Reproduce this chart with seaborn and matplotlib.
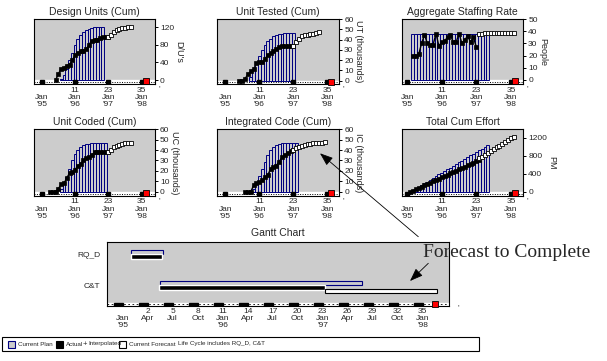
import numpy as np
import pandas as pd
import seaborn as sns
from matplotlib import pyplot as plt
from matplotlib.patches import Rectangle, FancyArrowPatch

# months: Jan '95 = -1, Jan '96 = 11, ...
tick_months = [-1, 11, 23, 35]
tick_text = ["\nJan\n'95", "11\nJan\n'96", "23\nJan\n'97", "35\nJan\n'98"]
complete_month = 36.4

# Design Units (Cum)
du_plan_m = list(range(6, 22))
du_plan = [3, 12, 26, 45, 62, 80, 93, 103, 110, 114, 117, 119, 120, 120, 120, 120]
du_act_m = list(range(4, 24))
du_act = [0, 14, 26, 28, 33, 35, 45, 57, 62, 65, 67, 70, 80, 90, 91, 92, 96, 97, 97, 97]
du_fc_m = list(range(23, 32))
du_fc = [97, 103, 109, 113, 116, 118, 119, 120, 120]

# Unit Tested (Cum)
ut_plan_m = list(range(8, 24))
ut_plan = [4, 10, 17, 24, 30, 35, 39, 41, 43, 44, 45, 45.5, 46, 46, 46, 46]
ut_act_m = list(range(4, 24))
ut_act = [0, 0, 2, 6, 9, 11, 17, 18, 18, 21, 25, 27, 29, 31, 33, 34, 34, 34, 34, 34]
ut_fc_m = list(range(23, 33))
ut_fc = [34, 38, 41, 43, 44, 44.5, 45, 45.5, 46, 47]

# Aggregate Staffing Rate
sr_plan_m = list(range(1, 28))
sr_plan = [38, 38, 38, 38, 38, 38, 38, 38, 38, 38, 38, 38, 38, 38,
           38, 38, 38, 38, 38, 38, 38, 38, 38, 38, 38, 38, 38]
sr_act_m = list(range(1, 24))
sr_act = [20, 20, 21, 30, 37, 30, 29, 29, 38, 28, 31, 32, 35, 37, 31, 31,
          38, 30, 33, 36, 31, 35, 27]
sr_fc_m = list(range(24, 37))
sr_fc = [38, 38, 38.5, 38.5, 38.5, 38.5, 38.5, 38.5, 38.5, 38.5, 38.5, 38.5, 38.5]

# Unit Coded (Cum)
uc_plan_m = list(range(6, 23))
uc_plan = [3, 7, 14, 22, 30, 36, 40, 43, 44.5, 45.5, 46, 46.5, 46.5, 46.5, 46.5, 46.5, 46.5]
uc_act_m = list(range(2, 24))
uc_act = [0, 0, 0, 3, 7, 8, 13, 18, 19, 21, 25, 27, 30, 32, 33, 35, 38, 38, 38, 38, 38, 38]
uc_fc_m = list(range(23, 32))
uc_fc = [38, 40, 43, 44, 45, 46, 46.5, 47, 47]

# Integrated Code (Cum)
ic_plan_m = list(range(9, 25))
ic_plan = [3, 8, 15, 22, 29, 35, 40, 43, 45, 46, 46.5, 46.5, 46.5, 46.5, 46.5, 46.5]
ic_act_m = list(range(6, 24))
ic_act = [0, 0, 0, 6, 8.5, 9, 11, 14, 16, 22, 24, 25, 29, 33, 35, 37, 39, 40]
ic_fc_m = list(range(23, 35))
ic_fc = [40, 42, 43, 44, 45, 45.5, 46, 46.5, 46.5, 47, 47, 47.5]

# Total Cum Effort
te_plan_m = list(range(1, 28))
te_plan = [30, 70, 110, 150, 190, 225, 265, 300, 345, 385, 420, 460, 500, 535,
           575, 615, 650, 690, 730, 770, 805, 845, 885, 920, 960, 1000, 1040]
te_act_m = list(range(0, 25))
te_act = [0, 25, 55, 85, 115, 145, 170, 200, 230, 260, 290, 320, 345, 375, 405,
          435, 465, 495, 525, 555, 585, 615, 645, 675, 700]
te_fc_m = list(range(24, 37))
te_fc = [740, 780, 820, 860, 900, 940, 985, 1025, 1065, 1105, 1150, 1190, 1225]

# Gantt
gantt_rows = ['RQ_D', 'C&T']
gantt_plan_start = [0.0, 3.5]
gantt_plan_end = [3.8, 27.7]
gantt_act_start = [0.0, 3.35]
gantt_act_end = [3.7, 23.3]
gantt_fc_start = 23.3
gantt_fc_end = 36.7
gantt_ticks = [-1, 2, 5, 8, 11, 14, 17, 20, 23, 26, 29, 32, 35]
gantt_tick_text = ["\nJan\n'95", "2\nApr\n", "5\nJul\n", "8\nOct\n", "11\nJan\n'96",
                   "14\nApr\n", "17\nJul\n", "20\nOct\n", "23\nJan\n'97", "26\nApr\n",
                   "29\nJul\n", "32\nOct\n", "35\nJan\n'98"]

legend_labels = ['Current Plan', 'Actual', 'Interpolated', 'Current Forecast']
legend_note = 'Life Cycle includes RQ_D, C&T'

GRAY = '#cccccc'
NAVY = '#000080'
W, H = 607, 361

sns.set_style('white')
plt.rcParams['font.family'] = ['Liberation Sans', 'DejaVu Sans']


def axpx(left, top, right, bottom):
    return [left / W, 1 - bottom / H, (right - left) / W, (bottom - top) / H]


def fpx(x, y):
    return x / W, 1 - y / H


def mini_panel(ax, title, ylabel, xlim, ylim, yticks, plan_m, plan, act_m, act, fc_m, fc):
    low = ylim[0]
    ax.set_facecolor(GRAY)
    ax.set_xlim(*xlim)
    ax.set_ylim(*ylim)
    ax.axhspan(low, 0, color='white', zorder=1)
    ax.axhline(low / 2, ls=(0, (1, 1.5)), color='black', lw=0.7, zorder=1.5)
    ax.bar(plan_m, plan, width=1, facecolor='none', edgecolor=NAVY, linewidth=0.7, zorder=2)
    sns.lineplot(x=act_m, y=act, ax=ax, color='black', lw=1, marker='s', ms=3.3,
                 mec='black', mfc='black', mew=0.5, zorder=3)
    sns.lineplot(x=fc_m, y=fc, ax=ax, color='black', lw=0.8, marker='s', ms=3.3,
                 mec='black', mfc='white', mew=0.6, zorder=3)
    ax.plot(tick_months, [low / 2] * len(tick_months), 's', color='black', ms=2.8, zorder=4)
    ax.plot([complete_month], [low * 0.3], 's', mfc='red', mec='black', ms=4.5, mew=0.6,
            zorder=5, clip_on=False)

    ax.set_xticks(tick_months, tick_text)
    ax.tick_params(axis='x', length=0, pad=2, labelsize=6)
    for lab in ax.get_xticklabels():
        lab.set_linespacing(1.05)
    ax.yaxis.tick_right()
    ax.yaxis.set_label_position('right')
    ax.set_yticks(yticks)
    ax.tick_params(axis='y', length=2.5, width=0.7, pad=1, labelsize=6, direction='out',
                   color='black', right=True, left=False)
    ax.set_ylabel(ylabel, rotation=270, fontsize=6.5, labelpad=0.5, va='bottom')
    ax.set_xlabel('')
    for s in ax.spines.values():
        s.set_visible(True)
        s.set_color('black')
        s.set_linewidth(0.8)
    ax.set_title(title, fontsize=7.5, pad=3)
    ax.text(1.03, -0.1, "'", transform=ax.transAxes, fontsize=6)


fig = plt.figure(figsize=(W / 100, H / 100), dpi=100)

col1, col2, col3 = (34, 155), (217.3, 339.3), (401.7, 523.3)
row1, row2 = (19, 84), (129.3, 195.7)

ax1 = fig.add_axes(axpx(col1[0], row1[0], col1[1], row1[1]))
mini_panel(ax1, 'Design Units (Cum)', "D/U's", (-3.8, 39.8), (-9, 139), [0, 40, 80, 120],
           du_plan_m, du_plan, du_act_m, du_act, du_fc_m, du_fc)

ax2 = fig.add_axes(axpx(col2[0], row1[0], col2[1], row1[1]))
mini_panel(ax2, 'Unit Tested (Cum)', 'UT (thousands)', (-3.8, 39.2), (-3.3, 60),
           [0, 10, 20, 30, 40, 50, 60], ut_plan_m, ut_plan, ut_act_m, ut_act, ut_fc_m, ut_fc)

ax3 = fig.add_axes(axpx(col3[0], row1[0], col3[1], row1[1]))
mini_panel(ax3, 'Aggregate Staffing Rate', 'People', (-2.9, 39.3), (-3.3, 50),
           [0, 10, 20, 30, 40, 50], sr_plan_m, sr_plan, sr_act_m, sr_act, sr_fc_m, sr_fc)

ax4 = fig.add_axes(axpx(col1[0], row2[0], col1[1], row2[1]))
mini_panel(ax4, 'Unit Coded (Cum)', 'UC (thousands)', (-3.8, 39.8), (-3.85, 60),
           [0, 10, 20, 30, 40, 50, 60], uc_plan_m, uc_plan, uc_act_m, uc_act, uc_fc_m, uc_fc)

ax5 = fig.add_axes(axpx(col2[0], row2[0], col2[1], row2[1]))
mini_panel(ax5, 'Integrated Code (Cum)', 'IC (thousands)', (-3.8, 39.2), (-3.85, 60),
           [0, 10, 20, 30, 40, 50, 60], ic_plan_m, ic_plan, ic_act_m, ic_act, ic_fc_m, ic_fc)

ax6 = fig.add_axes(axpx(col3[0], row2[0], col3[1], row2[1]))
mini_panel(ax6, 'Total Cum Effort', 'PM', (-2.9, 39.3), (-89, 1387), [0, 400, 800, 1200],
           te_plan_m, te_plan, te_act_m, te_act, te_fc_m, te_fc)

# Gantt chart
gx = fig.add_axes(axpx(107.3, 241.7, 449.3, 306))
gx.set_facecolor(GRAY)
gx.set_xlim(-2.85, 38.2)
gx.set_ylim(1.67, -0.41)
gx.axhspan(1.57, 1.67, color='white', zorder=1)
gx.axhline(1.62, ls=(0, (2, 3)), color='black', lw=0.6, zorder=1.5)
for t in gantt_ticks:
    gx.add_patch(Rectangle((t - 1, 1.57), 1, 0.1, color='black', zorder=2))
rows = np.arange(len(gantt_rows))
gx.barh(rows - 0.065, np.subtract(gantt_plan_end, gantt_plan_start), left=gantt_plan_start,
        height=0.13, facecolor=GRAY, edgecolor=NAVY, linewidth=0.8, zorder=3)
gx.barh(rows + 0.075, np.subtract(gantt_act_end, gantt_act_start), left=gantt_act_start,
        height=0.15, color='black', zorder=3)
gx.barh([1.195], [gantt_fc_end - gantt_fc_start], left=gantt_fc_start, height=0.13,
        facecolor='white', edgecolor='black', linewidth=0.8, zorder=3)
gx.plot([36.5], [1.6], 's', mfc='red', mec='black', ms=4.5, mew=0.6, zorder=5, clip_on=False)
gx.set_yticks(rows, gantt_rows)
gx.set_xticks(gantt_ticks, gantt_tick_text)
gx.tick_params(axis='x', length=0, pad=1.5, labelsize=6)
gx.tick_params(axis='y', length=0, pad=5, labelsize=6)
for lab in gx.get_xticklabels():
    lab.set_linespacing(1.0)
for s in gx.spines.values():
    s.set_visible(True)
    s.set_color('black')
    s.set_linewidth(0.8)
gx.set_title('Gantt Chart', fontsize=7.5, pad=4)
gx.text(1.025, -0.06, "'", transform=gx.transAxes, fontsize=6)

# annotation
fig.text(*fpx(423.3, 256.7), 'Forecast to Complete', family='Liberation Serif',
         fontsize=14, va='baseline', ha='left')
arrow_style = '-|>,head_length=0.8,head_width=0.3'
fig.add_artist(FancyArrowPatch(fpx(418.3, 236.7), fpx(320, 153.3), transform=fig.transFigure,
                               arrowstyle=arrow_style, mutation_scale=10, lw=0.6, color='black',
                               shrinkA=0, shrinkB=0))
fig.add_artist(FancyArrowPatch(fpx(428.3, 263.3), fpx(410, 281), transform=fig.transFigure,
                               arrowstyle=arrow_style, mutation_scale=10, lw=0.6, color='black',
                               shrinkA=0, shrinkB=0))

# legend box
x0, y0 = fpx(1.7, 350.7)
fig.add_artist(Rectangle((x0, y0), 477.3 / W, 13.4 / H, transform=fig.transFigure,
                         fill=False, ec='black', lw=0.8))
sw, sh = 7 / W, 7 / H
for (x, fc, ec) in [(8, GRAY, NAVY), (56, 'black', 'black'), (119, 'white', 'black')]:
    fig.add_artist(Rectangle(fpx(x, 347.5), sw, sh, transform=fig.transFigure,
                             facecolor=fc, edgecolor=ec, lw=0.8))
fig.text(*fpx(82.5, 344.5), '+', fontsize=5.5, va='center', ha='left')
for x, lab in zip([18, 66, 88, 129], legend_labels):
    fig.text(*fpx(x, 344), lab, fontsize=4.5, va='center', ha='left')
fig.text(*fpx(178, 344), legend_note, fontsize=4.5, va='center', ha='left')

fig.savefig('out.png', dpi=100)
